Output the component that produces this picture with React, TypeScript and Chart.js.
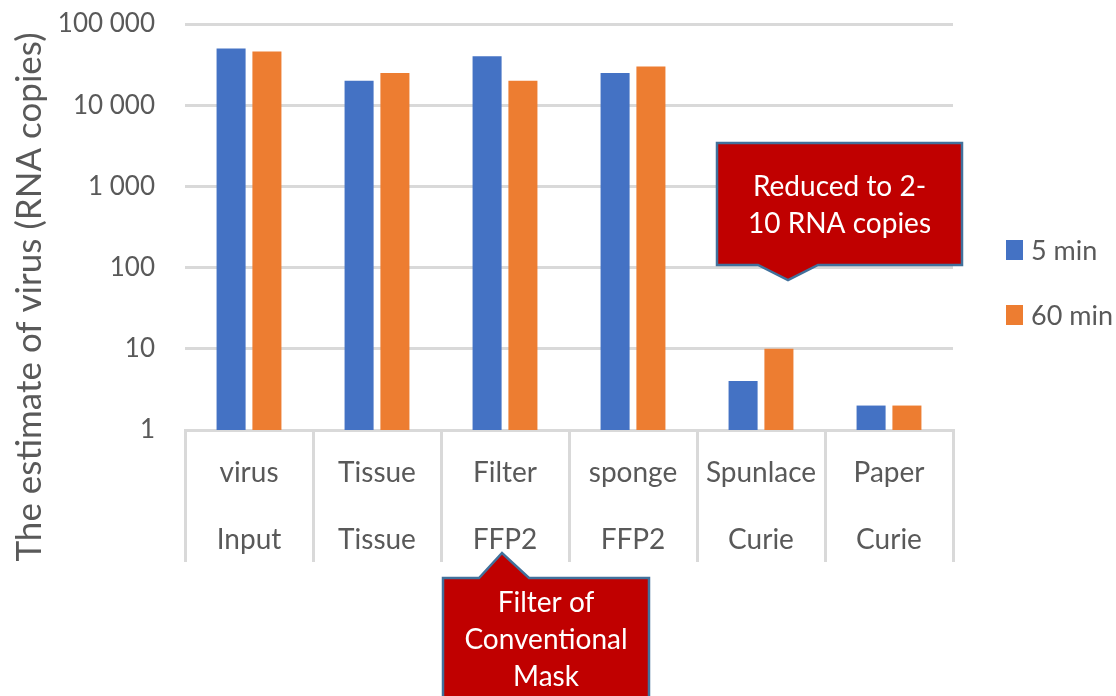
import React, { useEffect, useRef } from 'react';
import { Chart, registerables } from 'chart.js';

Chart.register(...registerables);

const categories = ['virus', 'Tissue', 'Filter', 'sponge', 'Spunlace', 'Paper'];
const groups = ['Input', 'Tissue', 'FFP2', 'FFP2', 'Curie', 'Curie'];
const series5min = [50000, 20000, 40000, 25000, 4, 2];
const series60min = [46000, 25000, 20000, 30000, 10, 2];
const seriesNames = ['5 min', '60 min'];
const seriesColors = ['#4472c4', '#ed7d31'];
const yTickValues = [1, 10, 100, 1000, 10000, 100000];
const yTitle = 'The estimate of virus (RNA copies)';
const callout1Lines = ['Reduced to 2-', '10 RNA copies'];
const callout2Lines = ['Filter of', 'Conventional', 'Mask'];

const FONT = 'Lato, "Noto Sans", sans-serif';
const TEXT = '#595959';
const GRID = '#d9d9d9';

function fmt(v: number): string {
  return String(Math.round(v)).replace(/\B(?=(\d{3})+(?!\d))/g, ' ');
}

type Box = { l: number; t: number; r: number; b: number };

function drawCallout(
  ctx: CanvasRenderingContext2D,
  box: Box,
  x1: number,
  x2: number,
  tx: number,
  ty: number,
  dir: 'up' | 'down',
  lines: string[],
  lineYs: number[]
) {
  ctx.save();
  ctx.beginPath();
  if (dir === 'down') {
    ctx.moveTo(box.l, box.t);
    ctx.lineTo(box.r, box.t);
    ctx.lineTo(box.r, box.b);
    ctx.lineTo(x2, box.b);
    ctx.lineTo(tx, ty);
    ctx.lineTo(x1, box.b);
    ctx.lineTo(box.l, box.b);
  } else {
    ctx.moveTo(box.l, box.t);
    ctx.lineTo(x1, box.t);
    ctx.lineTo(tx, ty);
    ctx.lineTo(x2, box.t);
    ctx.lineTo(box.r, box.t);
    ctx.lineTo(box.r, box.b);
    ctx.lineTo(box.l, box.b);
  }
  ctx.closePath();
  ctx.fillStyle = '#c00000';
  ctx.fill();
  ctx.lineWidth = 2.5;
  ctx.strokeStyle = '#41719c';
  ctx.lineJoin = 'miter';
  ctx.stroke();
  ctx.fillStyle = '#ffffff';
  ctx.font = `28px ${FONT}`;
  ctx.textAlign = 'center';
  ctx.textBaseline = 'middle';
  const cx = (box.l + box.r) / 2;
  lines.forEach((ln, i) => ctx.fillText(ln, cx, lineYs[i]));
  ctx.restore();
}

const decorPlugin = {
  id: 'decor',
  afterDraw(chart: any) {
    const ctx: CanvasRenderingContext2D = chart.ctx;
    const xs = chart.scales.x;
    const area = chart.chartArea;

    // y-axis title
    ctx.save();
    ctx.translate(30, 297);
    ctx.rotate(-Math.PI / 2);
    ctx.font = `35px ${FONT}`;
    ctx.fillStyle = TEXT;
    ctx.textAlign = 'center';
    ctx.textBaseline = 'middle';
    ctx.fillText(yTitle, 0, 0);
    ctx.restore();

    // legend
    ctx.save();
    ctx.font = `27px ${FONT}`;
    ctx.textAlign = 'left';
    ctx.textBaseline = 'middle';
    chart.data.datasets.forEach((ds: any, i: number) => {
      const cy = 250 + i * 65;
      const bx = area.right + 53;
      ctx.fillStyle = ds.backgroundColor;
      ctx.fillRect(bx, cy - 10, 17, 20);
      ctx.fillStyle = TEXT;
      ctx.fillText(ds.label, bx + 25, cy + 1);
    });
    ctx.restore();

    // callout 1 (Spunlace)
    const c4 = xs.getPixelForValue(4);
    drawCallout(
      ctx,
      { l: c4 - 44, t: 143, r: c4 + 201, b: 265 },
      c4 - 3,
      c4 + 57,
      c4 + 27,
      280,
      'down',
      callout1Lines,
      [187, 224]
    );

    // callout 2 (Filter)
    const c2 = xs.getPixelForValue(2);
    drawCallout(
      ctx,
      { l: c2 - 62, t: 578, r: c2 + 144, b: 720 },
      c2 - 26,
      c2 + 24,
      c2 - 3,
      553,
      'up',
      callout2Lines,
      [603, 640, 677]
    );
  },
};

export default function App() {
  const canvasRef = useRef<HTMLCanvasElement | null>(null);

  useEffect(() => {
    document.body.style.margin = '0';
    const canvas = canvasRef.current;
    if (!canvas) return;
    const chart = new Chart(canvas, {
      type: 'bar',
      data: {
        labels: categories.map((c, i) => [c, groups[i]]),
        datasets: [
          {
            label: seriesNames[0],
            data: series5min,
            backgroundColor: seriesColors[0],
            borderWidth: 0,
            categoryPercentage: 0.56,
            barPercentage: 0.81,
          },
          {
            label: seriesNames[1],
            data: series60min,
            backgroundColor: seriesColors[1],
            borderWidth: 0,
            categoryPercentage: 0.56,
            barPercentage: 0.81,
          },
        ],
      },
      options: {
        animation: false,
        responsive: true,
        maintainAspectRatio: false,
        layout: { padding: { left: 0, right: 163, top: 24, bottom: 0 } },
        plugins: {
          legend: { display: false },
          tooltip: { enabled: false },
          title: { display: false },
        },
        scales: {
          x: {
            grid: {
              offset: true,
              drawOnChartArea: false,
              drawTicks: true,
              tickLength: 132,
              color: GRID,
              lineWidth: 3,
            },
            border: { display: true, color: GRID, width: 3 },
            ticks: {
              font: { family: FONT, size: 28, lineHeight: 67 / 28 },
              color: TEXT,
              padding: -122.5,
              autoSkip: false,
              maxRotation: 0,
            },
            afterFit: (s: any) => {
              s.height = 266;
            },
          },
          y: {
            type: 'logarithmic',
            min: 1,
            max: 100000,
            afterBuildTicks: (s: any) => {
              s.ticks = yTickValues.map((v) => ({ value: v }));
            },
            afterFit: (s: any) => {
              s.width = 185;
            },
            ticks: {
              callback: (v: any) => fmt(Number(v)),
              font: { family: FONT, size: 26 },
              color: TEXT,
              padding: 0,
              autoSkip: false,
            },
            grid: {
              color: GRID,
              lineWidth: 3,
              drawTicks: true,
              tickLength: 30,
              tickColor: 'rgba(0,0,0,0)',
            },
            border: { display: false },
          },
        },
      } as any,
      plugins: [decorPlugin],
    });
    return () => chart.destroy();
  }, []);

  return (
    <div style={{ position: 'relative', width: 1116, height: 696 }}>
      <canvas ref={canvasRef} />
    </div>
  );
}
